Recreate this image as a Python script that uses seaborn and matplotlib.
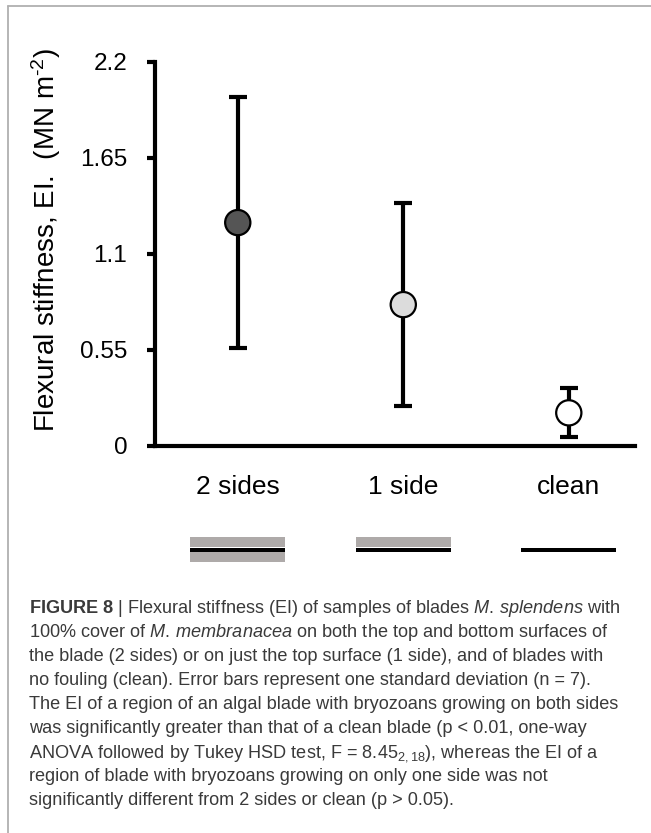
import seaborn as sns
import matplotlib.pyplot as plt
from matplotlib.lines import Line2D

# summary values (mean and one SD of EI, MN m-2)
groups = ['2 sides', '1 side', 'clean']
mean_ei = [1.28, 0.81, 0.19]
sd_ei = [0.72, 0.58, 0.14]
marker_colors = ['#555555', '#dcdcdc', '#ffffff']

# which blade surfaces carry bryozoans (for the little sketches below the axis)
top_fouled = [1, 1, 0]
bottom_fouled = [1, 0, 0]

y_ticks = [0, 0.55, 1.1, 1.65, 2.2]
y_ticklabels = ['0', '0.55', '1.1', '1.65', '2.2']

caption = [
    r"$\mathbf{FIGURE\ 8}$ | Flexural stiffness (EI) of samples of blades $\mathit{M.}$$\mathit{\,splendens}$ with",
    r"100% cover of $\mathit{M.}$$\mathit{\,membranacea}$ on both the top and bottom surfaces of",
    "the blade (2 sides) or on just the top surface (1 side), and of blades with",
    "no fouling (clean). Error bars represent one standard deviation (n = 7).",
    "The EI of a region of an algal blade with bryozoans growing on both sides",
    "was significantly greater than that of a clean blade (p < 0.01, one-way",
    r"ANOVA followed by Tukey HSD test, F = 8.45$_{2,18}$), whereas the EI of a",
    "region of blade with bryozoans growing on only one side was not",
    "significantly different from 2 sides or clean (p > 0.05).",
]

sns.set_theme(style="ticks")
plt.rcParams['font.family'] = ['Liberation Sans', 'DejaVu Sans']
plt.rcParams['mathtext.fontset'] = 'custom'
plt.rcParams['mathtext.rm'] = 'Liberation Sans'
plt.rcParams['mathtext.it'] = 'Liberation Sans:italic'
plt.rcParams['mathtext.bf'] = 'Liberation Sans:bold'

W, H = 651, 833
fig = plt.figure(figsize=(W / 100, H / 100), dpi=100)
ax = fig.add_axes([155 / W, 1 - 446 / H, 480 / W, 384 / H])

xs = list(range(len(groups)))
ax.errorbar(xs, mean_ei, yerr=sd_ei, fmt='none', ecolor='black',
            elinewidth=3, capsize=6.5, capthick=3, zorder=2, clip_on=False)
sns.scatterplot(x=groups, y=mean_ei, hue=groups, palette=marker_colors,
                s=330, edgecolor='black', linewidth=1.6, legend=False,
                zorder=3, clip_on=False, ax=ax)

ax.set_xlim(-0.5, 2.4)
ax.set_ylim(0, 2.2)
ax.set_yticks(y_ticks)
ax.set_yticklabels(y_ticklabels)
ax.set_xlabel('')
ax.set_ylabel('')
sns.despine(ax=ax)
for side in ['left', 'bottom']:
    ax.spines[side].set_linewidth(3)
    ax.spines[side].set_color('black')
ax.tick_params(axis='y', length=6, width=3, pad=14, labelsize=17.5,
               colors='black', direction='out')
ax.tick_params(axis='x', length=0, pad=21, labelsize=19, colors='black')

fig.text(46 / W, 1 - 240 / H, r"Flexural stiffness, EI.  (MN m$^{\text{-}2}$)",
         rotation=90, ha='center', va='center', fontsize=20, color='black')

# blade cross-section sketches
ax2 = fig.add_axes([155 / W, 1 - 570 / H, 480 / W, 40 / H])
ax2.set_xlim(ax.get_xlim())
ax2.set_ylim(-20, 20)
ax2.axis('off')
bw = 0.574
grey = '#aeaaa9'
top_x = [x for x, f in zip(xs, top_fouled) if f]
bot_x = [x for x, f in zip(xs, bottom_fouled) if f]
ax2.bar(top_x, 10.6, bottom=2.6, width=bw, color=grey, linewidth=0)
ax2.bar(bot_x, 9.4, bottom=-11.7, width=bw, color=grey, linewidth=0)
ax2.bar(xs, 4.6, bottom=-2.3, width=bw, color='black', linewidth=0)

# caption
for i, line in enumerate(caption):
    fig.text(29 / W, 1 - (613 + 24 * i) / H, line, fontsize=13.1,
             color='#3a3a3a', ha='left', va='baseline')

# panel border (left and top)
border = '#b0b0b0'
fig.add_artist(Line2D([7.5 / W, 7.5 / W], [0, 1 - 6 / H], color=border, lw=1.3))
fig.add_artist(Line2D([7.5 / W, 1], [1 - 6 / H, 1 - 6 / H], color=border, lw=1.3))

fig.savefig('out.png', dpi=100)
